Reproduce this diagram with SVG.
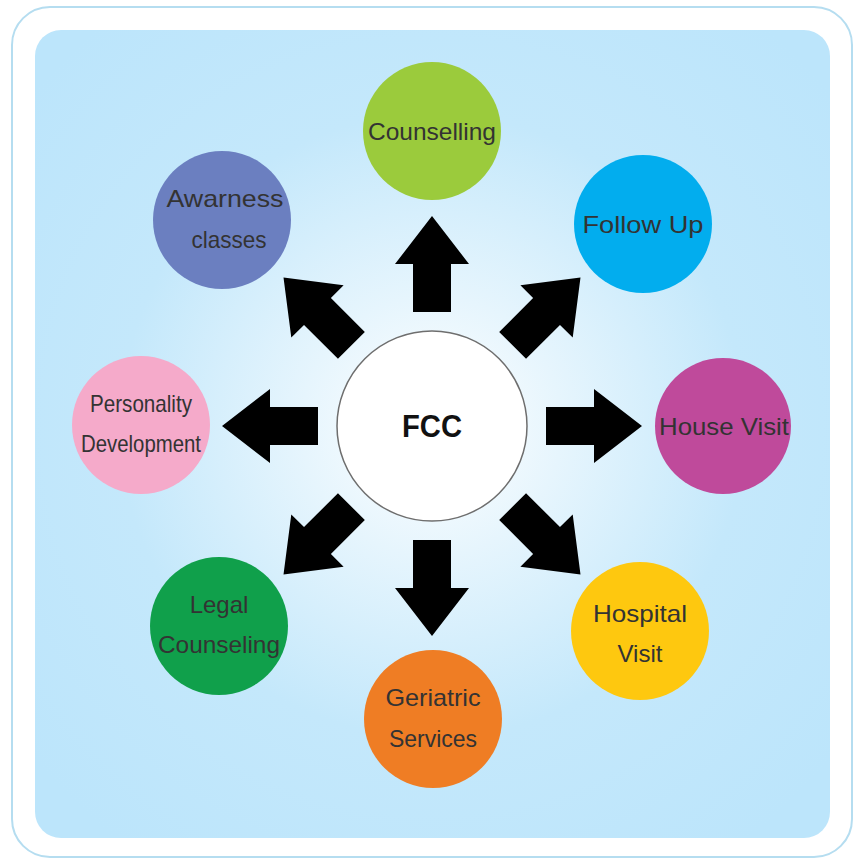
<svg xmlns="http://www.w3.org/2000/svg" width="857" height="861" viewBox="0 0 857 861">
<defs>
<radialGradient id="bg" cx="432" cy="426" r="520" gradientUnits="userSpaceOnUse">
<stop offset="0" stop-color="#ffffff"/>
<stop offset="0.25" stop-color="#e6f5fd"/>
<stop offset="0.6" stop-color="#c4e8fb"/>
<stop offset="1" stop-color="#bce5fb"/>
</radialGradient>
<path id="arr" d="M114,-19 H162 V-37 L210,0 L162,37 V19 H114 Z"/>
<style>
.node text{font-family:"Liberation Sans",Arial,sans-serif;font-size:24px;fill:#333333;text-anchor:middle}
.arrows use{fill:#000000}
</style>
</defs>
<rect x="0" y="0" width="857" height="861" fill="#ffffff"/>
<rect x="12" y="7" width="840" height="850" rx="38" fill="#ffffff" stroke="#b5ddf0" stroke-width="2"/>
<rect x="35" y="30" width="795" height="808" rx="26" fill="url(#bg)"/>
<g id="connectors" class="arrows" transform="translate(432,426)">
<use href="#arr" transform="rotate(-90)"/>
<use href="#arr" transform="rotate(-45)"/>
<use href="#arr" transform="rotate(0)"/>
<use href="#arr" transform="rotate(45)"/>
<use href="#arr" transform="rotate(90)"/>
<use href="#arr" transform="rotate(135)"/>
<use href="#arr" transform="rotate(180)"/>
<use href="#arr" transform="rotate(225)"/>
</g>
<g id="fcc" class="node">
<circle cx="432" cy="426" r="95" fill="#ffffff" stroke="#6e6e6e" stroke-width="1.5"/>
<text x="432" y="437" style="font-size:31px;font-weight:bold;fill:#111111" textLength="60" lengthAdjust="spacingAndGlyphs">FCC</text>
</g>
<g id="counselling" class="node">
<circle cx="432" cy="131" r="69" fill="#9bcb3c"/>
<text x="432" y="140" textLength="128" lengthAdjust="spacingAndGlyphs">Counselling</text>
</g>
<g id="follow-up" class="node">
<circle cx="643" cy="224" r="69" fill="#02adee"/>
<text x="643" y="233" textLength="121" lengthAdjust="spacingAndGlyphs">Follow Up</text>
</g>
<g id="house-visit" class="node">
<circle cx="723" cy="426" r="68" fill="#bf4a9b"/>
<text x="724" y="435" textLength="130" lengthAdjust="spacingAndGlyphs">House Visit</text>
</g>
<g id="hospital-visit" class="node">
<circle cx="640" cy="631" r="69" fill="#fec80f"/>
<text x="640" y="622" textLength="94" lengthAdjust="spacingAndGlyphs">Hospital</text>
<text x="640" y="662">Visit</text>
</g>
<g id="geriatric-services" class="node">
<circle cx="433" cy="719" r="69" fill="#ef7d24"/>
<text x="433" y="706" textLength="95" lengthAdjust="spacingAndGlyphs">Geriatric</text>
<text x="433" y="747" textLength="88" lengthAdjust="spacingAndGlyphs">Services</text>
</g>
<g id="legal-counseling" class="node">
<circle cx="219" cy="626" r="69" fill="#10a04b"/>
<text x="219" y="613">Legal</text>
<text x="219" y="653" textLength="122" lengthAdjust="spacingAndGlyphs">Counseling</text>
</g>
<g id="personality-development" class="node">
<circle cx="141" cy="425" r="69" fill="#f5aaca"/>
<text x="141" y="412" textLength="102" lengthAdjust="spacingAndGlyphs">Personality</text>
<text x="141" y="452" textLength="120" lengthAdjust="spacingAndGlyphs">Development</text>
</g>
<g id="awarness-classes" class="node">
<circle cx="222" cy="220" r="69" fill="#6b7fc0"/>
<text x="225" y="207" textLength="117" lengthAdjust="spacingAndGlyphs">Awarness</text>
<text x="229" y="248" textLength="75" lengthAdjust="spacingAndGlyphs">classes</text>
</g>
</svg>
